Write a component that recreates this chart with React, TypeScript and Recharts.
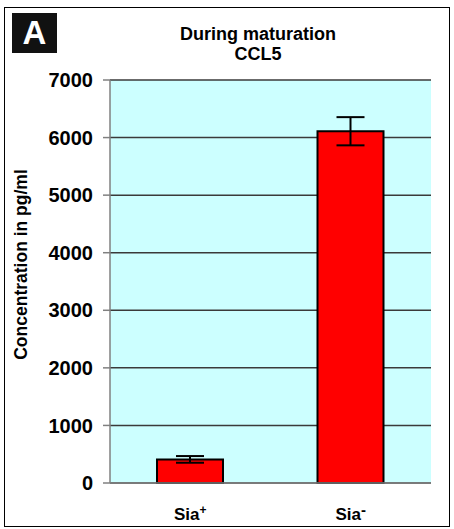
import { Bar, BarChart, CartesianGrid, ErrorBar, ReferenceArea, XAxis, YAxis } from "recharts";

const GROUPS = ["Sia+", "Sia-"];
const CONCENTRATION = [410, 6110];
const ERROR = [58, 245];
const Y_TICKS = [0, 1000, 2000, 3000, 4000, 5000, 6000, 7000];

const FONT = "Arial, 'Liberation Sans', sans-serif";

const rows = GROUPS.map((g, i) => ({ group: g, value: CONCENTRATION[i], err: ERROR[i] }));

function GroupTick({ x, y, payload }: any) {
  const label: string = payload.value;
  const base = label.slice(0, -1);
  const sup = label.slice(-1);
  return (
    <text x={x} y={y + 29} textAnchor="middle" fontFamily={FONT} fontWeight="bold" fontSize={17} fill="#000">
      <tspan>{base}</tspan>
      <tspan fontSize={sup === "-" ? 15 : 12} dy={sup === "-" ? -5 : -6}>{sup}</tspan>
    </text>
  );
}

function AxisTitle({ viewBox }: any) {
  const cx = 21;
  const cy = viewBox.y + viewBox.height / 2 - 17;
  return (
    <text
      x={cx}
      y={cy}
      transform={`rotate(-90, ${cx}, ${cy})`}
      textAnchor="middle"
      dominantBaseline="central"
      fontFamily={FONT}
      fontWeight="bold"
      fontSize={17.5}
      fill="#000"
    >
      Concentration in pg/ml
    </text>
  );
}

export default function App() {
  return (
    <div style={{ position: "absolute", left: 0, top: 0, width: 454, height: 529, background: "#fff", fontFamily: FONT }}>
      <div style={{ position: "absolute", left: 4, top: 7, width: 444, height: 518, border: "1.5px solid #000" }} />
      <div
        style={{
          position: "absolute", left: 12, top: 13, width: 45, height: 40, background: "#111",
          color: "#fff", fontWeight: "bold", fontSize: 33, lineHeight: "40px", textAlign: "center"
        }}
      >
        A
      </div>
      <div style={{ position: "absolute", left: 138, top: 24, width: 240, textAlign: "center", fontWeight: "bold", fontSize: 18, lineHeight: "20px", color: "#000" }}>
        During maturation
        <br />
        CCL5
      </div>
      <div style={{ position: "absolute", left: 0, top: 0 }}>
        <BarChart width={454} height={529} data={rows} margin={{ top: 80, right: 23, bottom: 16, left: 0 }} barSize={66}>
          <CartesianGrid vertical={false} fill="#ccffff" stroke="#3a3a3a" strokeWidth={1.5} />
          <ReferenceArea fill="none" stroke="#808080" strokeWidth={1.5} />
          <XAxis dataKey="group" height={30} tickLine={false} axisLine={{ stroke: "#808080", strokeWidth: 1.5 }} tick={<GroupTick />} />
          <YAxis
            width={110}
            domain={[0, 7000]}
            ticks={Y_TICKS}
            interval={0}
            tickSize={7}
            tickMargin={10}
            tickLine={{ stroke: "#808080", strokeWidth: 1.5 }}
            axisLine={{ stroke: "#808080", strokeWidth: 1.5 }}
            tick={{ fontFamily: FONT, fontWeight: "bold", fontSize: 20, fill: "#000" }}
            label={<AxisTitle />}
          />
          <Bar dataKey="value" fill="#ff0000" stroke="#000" strokeWidth={2} isAnimationActive={false}>
            <ErrorBar dataKey="err" width={14} stroke="#000" strokeWidth={2} />
          </Bar>
        </BarChart>
      </div>
    </div>
  );
}
